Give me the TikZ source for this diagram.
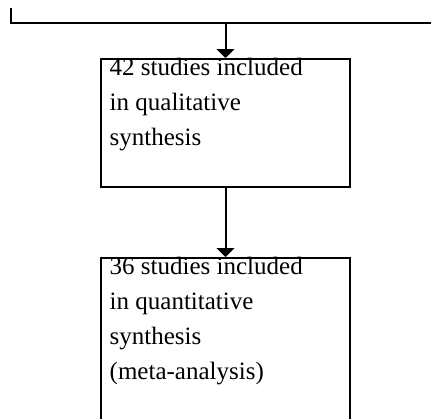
\documentclass[tikz,border=0pt]{standalone}
\usepackage{fontspec}
\setmainfont{Liberation Serif}
\usetikzlibrary{arrows.meta}
\tikzset{
  boxnode/.style={draw=black, line width=2pt, rectangle, inner sep=0pt, anchor=north west, minimum width=249pt},
  txtnode/.style={anchor=base west, inner sep=0pt, font=\fontsize{25pt}{35pt}\selectfont},
  conn/.style={draw=black, line width=2pt},
  arr/.style={conn, -{Triangle[width=18pt,length=9pt]}}
}
\begin{document}
\begin{tikzpicture}[x=1pt,y=-1pt]
\useasboundingbox (0,0) rectangle (431,418);
\clip (0,0) rectangle (431,418);
\node[boxnode, minimum height=128pt] (b1) at (100,58) {};
\node[boxnode, minimum height=200pt] (b2) at (100,257) {};
\node[txtnode] (t1) at (109.5,75) {\parbox[t]{230pt}{42 studies included\\in qualitative\\synthesis}};
\node[txtnode] (t2) at (109.5,274) {\parbox[t]{230pt}{36 studies included\\in quantitative\\synthesis\\(meta-analysis)}};
\coordinate (tl) at (11,8);
\coordinate (tc) at (b1.north |- 0,22.5);
\coordinate (tr) at (440,22.5);
\draw[conn] (tl) |- (tr);
\draw[arr] (tc) -- (b1.north);
\draw[arr] (b1.south) -- (b2.north);
\end{tikzpicture}
\end{document}
